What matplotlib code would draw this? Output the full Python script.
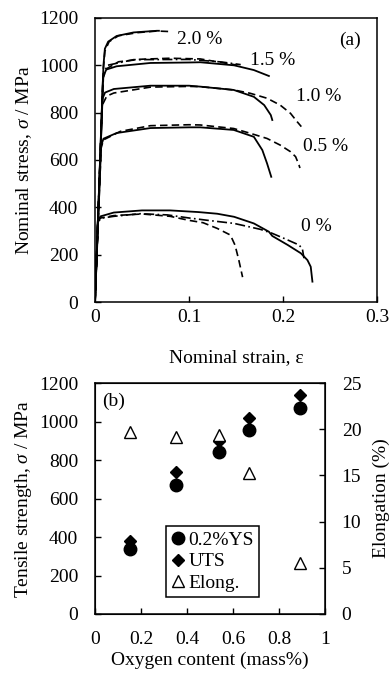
import numpy as np
import matplotlib
matplotlib.use('Agg')
import matplotlib.pyplot as plt

plt.rcParams['font.family'] = ['Liberation Serif', 'DejaVu Serif']
plt.rcParams['mathtext.fontset'] = 'custom'
plt.rcParams['mathtext.rm'] = 'Liberation Serif'
plt.rcParams['mathtext.it'] = 'Liberation Serif:italic'
plt.rcParams['font.size'] = 14

# ---- (a) nominal stress-strain curves ----
# each curve: (strain list, stress list, line style)
e20_s = [0, 0.009, 0.0105, 0.014, 0.023, 0.041, 0.0658, 0.068]
s20_s = [0, 1000, 1070, 1100, 1124, 1139, 1146, 1146]
e20_d = [0, 0.009, 0.0105, 0.015, 0.025, 0.045, 0.066, 0.078]
s20_d = [0, 990, 1060, 1100, 1125, 1138, 1145, 1143]

e15_s = [0, 0.0085, 0.012, 0.023, 0.059, 0.1, 0.112, 0.148, 0.169, 0.185]
s15_s = [0, 950, 982, 996, 1010, 1012, 1013, 1000, 980, 955]
e15_d = [0, 0.0085, 0.012, 0.025, 0.05, 0.08, 0.112, 0.13, 0.151]
s15_d = [0, 945, 985, 1015, 1026, 1030, 1027, 1015, 1001]
e15_dd = [0, 0.009, 0.013, 0.041, 0.1, 0.135, 0.155]
s15_dd = [0, 960, 1000, 1024, 1025, 1014, 1003]

e10_s = [0, 0.008, 0.0107, 0.02, 0.059, 0.1, 0.112, 0.1476, 0.169, 0.18, 0.187, 0.1886]
s10_s = [0, 860, 885, 900, 914, 914, 910, 896, 867, 832, 790, 769]
e10_d = [0, 0.0075, 0.0125, 0.02, 0.059, 0.1, 0.112, 0.1476, 0.165, 0.183, 0.197, 0.208, 0.215, 0.2195]
s10_d = [0, 830, 870, 883, 908, 911, 910, 896, 882, 861, 832, 797, 762, 741]

e05_s = [0, 0.0065, 0.009, 0.023, 0.059, 0.1, 0.112, 0.1476, 0.169, 0.178, 0.183, 0.1875]
s05_s = [0, 660, 690, 714, 735, 738, 738, 727, 698, 642, 586, 529]
e05_d = [0, 0.0065, 0.009, 0.027, 0.059, 0.1, 0.112, 0.1476, 0.165, 0.183, 0.197, 0.208, 0.2134, 0.217, 0.218]
s05_d = [0, 650, 685, 721, 745, 749, 748, 733, 713, 691, 663, 635, 614, 579, 566]

e00_s = [0, 0.003, 0.006, 0.02, 0.05, 0.08, 0.11, 0.13, 0.148, 0.169, 0.185, 0.1886, 0.205, 0.219, 0.226, 0.2295, 0.2313]
s00_s = [0, 345, 362, 378, 387, 387, 380, 373, 360, 332, 297, 279, 241, 206, 177, 149, 86]
e00_d = [0, 0.003, 0.006, 0.02, 0.05, 0.08, 0.1, 0.115, 0.13, 0.144, 0.149, 0.153, 0.157]
s00_d = [0, 340, 355, 365, 372, 362, 345, 335, 311, 283, 240, 177, 105]
e00_dd = [0, 0.003, 0.008, 0.02, 0.048, 0.077, 0.1, 0.12, 0.148, 0.176, 0.1886, 0.201, 0.217, 0.2206, 0.2223]
s00_dd = [0, 340, 355, 362, 373, 368, 355, 345, 332, 307, 290, 269, 241, 225, 185]

curves = [
    (e20_s, s20_s, '-'), (e20_d, s20_d, '--'),
    (e15_s, s15_s, '-'), (e15_d, s15_d, '--'), (e15_dd, s15_dd, '-.'),
    (e10_s, s10_s, '-'), (e10_d, s10_d, '--'),
    (e05_s, s05_s, '-'), (e05_d, s05_d, '--'),
    (e00_s, s00_s, '-'), (e00_d, s00_d, '--'), (e00_dd, s00_dd, '-.'),
]

curve_labels = ['2.0 %', '1.5 %', '1.0 %', '0.5 %', '0 %']
label_eps = [0.0875, 0.165, 0.2135, 0.221, 0.219]
label_sig = [1111, 1022, 870, 655, 317]

# ---- (b) properties vs oxygen content ----
oxygen = [0.15, 0.35, 0.54, 0.67, 0.89]
ys02 = [338, 670, 840, 956, 1068]
uts = [379, 740, 900, 1020, 1140]
elong = [19.7, 19.2, 19.4, 15.3, 5.5]

fig = plt.figure(figsize=(3.9, 6.75), dpi=100)

ax = fig.add_axes([95/390, 1 - 302/675, 282/390, 284/675])
for e, s, ls in curves:
    if ls == '--':
        ax.plot(e, s, color='black', lw=1.2, linestyle=(0, (4.5, 2.5)))
    elif ls == '-.':
        ax.plot(e, s, color='black', lw=1.2, linestyle=(0, (6, 2, 1, 2)))
    else:
        ax.plot(e, s, color='black', lw=1.3)
for t, x, y in zip(curve_labels, label_eps, label_sig):
    ax.text(x, y, t, ha='left', va='center', fontsize=14)
ax.text(0.943, 0.92, '(a)', transform=ax.transAxes, ha='right', va='center', fontsize=14)
ax.set_xlim(0, 0.3)
ax.set_ylim(0, 1200)
ax.set_xticks([0, 0.1, 0.2, 0.3])
ax.set_xticklabels(['0', '0.1', '0.2', '0.3'])
ax.set_yticks(np.arange(0, 1201, 200))
ax.tick_params(axis='x', direction='in', length=4, width=1, pad=5)
ax.tick_params(axis='y', direction='in', length=4, width=1, pad=12)
ax.set_xlabel('Nominal strain, ε', labelpad=17)
ax.set_ylabel(r'Nominal stress, $\sigma$ / MPa', labelpad=4)
for sp in ax.spines.values():
    sp.set_linewidth(1.1)

bx = fig.add_axes([95/390, 1 - 614/675, 230/390, 231/675])
h1, = bx.plot(oxygen, ys02, 'o', color='black', ms=9, label='0.2%YS')
h2, = bx.plot(oxygen, uts, 'D', color='black', ms=6, label='UTS')
bx.set_xlim(0, 1)
bx.set_ylim(0, 1200)
bx.set_xticks(np.arange(0, 1.01, 0.2))
bx.set_xticklabels(['0', '0.2', '0.4', '0.6', '0.8', '1'])
bx.set_yticks(np.arange(0, 1201, 200))
bx.tick_params(axis='x', direction='in', length=4, width=1, pad=12)
bx.tick_params(axis='y', direction='in', length=4, width=1, pad=12)
bx.set_xlabel('Oxygen content (mass%)', labelpad=3)
bx.set_ylabel(r'Tensile strength, $\sigma$ / MPa', labelpad=4)
bx.text(0.03, 0.92, '(b)', transform=bx.transAxes, ha='left', va='center', fontsize=14)
for sp in bx.spines.values():
    sp.set_linewidth(1.1)

bx2 = bx.twinx()
h3, = bx2.plot(oxygen, elong, '^', mfc='white', mec='black', mew=1, ms=9, label='Elong.')
bx2.set_ylim(0, 25)
bx2.set_yticks(np.arange(0, 26, 5))
bx2.tick_params(axis='y', direction='in', length=4, width=1, pad=12)
bx2.set_ylabel('Elongation (%)', labelpad=8)

leg = bx2.legend(handles=[h1, h2, h3], loc='lower left', bbox_to_anchor=(0.31, 0.075),
                 frameon=True, fancybox=False, edgecolor='black', framealpha=1,
                 handlelength=0.7, handletextpad=0.2, borderpad=0.25, labelspacing=0.2,
                 borderaxespad=0, fontsize=14)
leg.get_frame().set_linewidth(1.1)

fig.savefig('out.png', dpi=100)
